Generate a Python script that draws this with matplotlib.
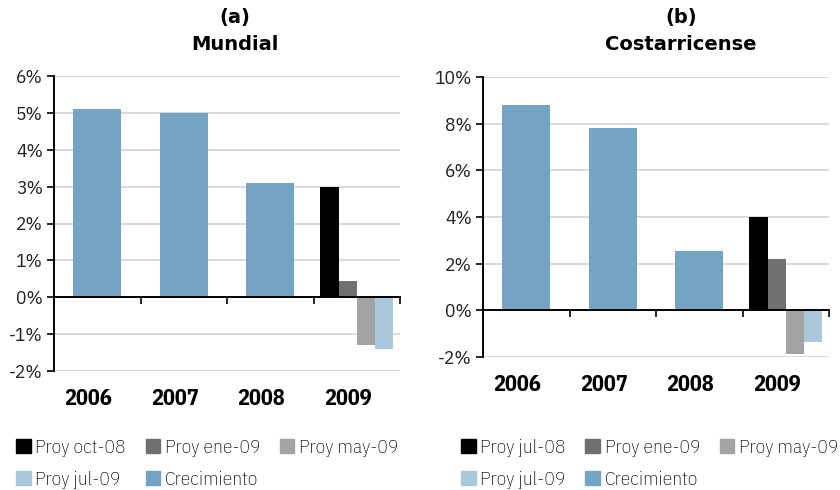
import matplotlib
matplotlib.use("Agg")
import matplotlib.pyplot as plt
from matplotlib.patches import Patch
import numpy as np

years = ["2006", "2007", "2008", "2009"]

mundial_crec = [5.1, 5.0, 3.1]
mundial_proy = [3.0, 0.45, -1.3, -1.4]
mundial_labels = ["Proy oct-08", "Proy ene-09", "Proy may-09", "Proy jul-09"]
mundial_yticks = [-2, -1, 0, 1, 2, 3, 4, 5, 6]

cr_crec = [8.8, 7.8, 2.55]
cr_proy = [4.0, 2.2, -1.85, -1.35]
cr_labels = ["Proy jul-08", "Proy ene-09", "Proy may-09", "Proy jul-09"]
cr_yticks = [-2, 0, 2, 4, 6, 8, 10]

crec_label = "Crecimiento"
crec_color = "#73a4c3"
proy_colors = ["#000000", "#707070", "#a3a3a3", "#a9c8db"]

NARROW = ["IBM Plex Sans Condensed", "DejaVu Sans"]
plt.rcParams["font.family"] = NARROW


def draw_panel(ax, crec, proy, yticks):
    x = np.arange(len(years))
    ax.set_axisbelow(True)
    ax.bar(x[:len(crec)], crec, width=0.55, color=crec_color, zorder=2)
    w = 0.21
    offs = (np.arange(len(proy)) - (len(proy) - 1) / 2) * w
    for i, v in enumerate(proy):
        ax.bar(x[-1] + offs[i], v, width=w, color=proy_colors[i], zorder=2)
    ax.set_xlim(-0.5, len(years) - 0.5)
    ax.set_ylim(yticks[0], yticks[-1])
    ax.set_yticks(yticks)
    ax.set_yticklabels([f"{t}%" for t in yticks], fontsize=14, color="#222222",
                       family="IBM Plex Sans Condensed")
    ax.yaxis.grid(True, color="#d9d9d9", linewidth=1.4)
    ax.tick_params(axis="y", direction="out", length=5, width=1.2, pad=3)
    ax.spines["top"].set_visible(False)
    ax.spines["right"].set_visible(False)
    ax.spines["left"].set_linewidth(1.4)
    ax.spines["bottom"].set_position(("data", 0))
    ax.spines["bottom"].set_linewidth(1.4)
    ax.spines["bottom"].set_zorder(3)
    ax.set_xticks(np.arange(len(years) + 1) - 0.5)
    ax.set_xticklabels([])
    ax.tick_params(axis="x", direction="out", length=5, width=1.2)
    for i, yr in enumerate(years):
        ax.annotate(yr, xy=(i, 0), xycoords=("data", "axes fraction"),
                    xytext=(-6.5, -19.5), textcoords="offset points",
                    ha="center", va="center", fontsize=16, fontweight="bold")


fig = plt.figure(figsize=(8.4, 4.9), dpi=100)
ax1 = fig.add_axes([54 / 840, 119 / 490, 346 / 840, 295 / 490])
ax2 = fig.add_axes([483 / 840, 133 / 490, 346 / 840, 280 / 490])

draw_panel(ax1, mundial_crec, mundial_proy, mundial_yticks)
draw_panel(ax2, cr_crec, cr_proy, cr_yticks)

for xc, letter, name in [(235, "(a)", "Mundial"), (681, "(b)", "Costarricense")]:
    fig.text(xc / 840, 1 - 18 / 490, letter, ha="center", va="center",
             fontsize=14, fontweight="bold", family="DejaVu Sans")
    fig.text(xc / 840, 1 - 45 / 490, name, ha="center", va="center",
             fontsize=14, fontweight="bold", family="DejaVu Sans")


def make_legend(labels, anchor):
    handles = [Patch(color=c, label=l) for c, l in zip(proy_colors, labels)]
    handles.append(Patch(color=crec_color, label=crec_label))
    # row-wise order for 3 columns
    order = [0, 3, 1, 4, 2]
    handles = [handles[i] for i in order]
    leg = fig.legend(handles=handles, loc="upper left", bbox_to_anchor=anchor,
                     ncol=3, frameon=False, fontsize=14, handlelength=0.75,
                     handleheight=0.75, handletextpad=0.25, columnspacing=1.0,
                     labelspacing=0.7, borderaxespad=0, borderpad=0)
    for t in leg.get_texts():
        t.set_fontweight("light")


make_legend(mundial_labels, (16 / 840, 1 - 439 / 490))
make_legend(cr_labels, (461 / 840, 1 - 439 / 490))

fig.savefig("out.png", dpi=100)
